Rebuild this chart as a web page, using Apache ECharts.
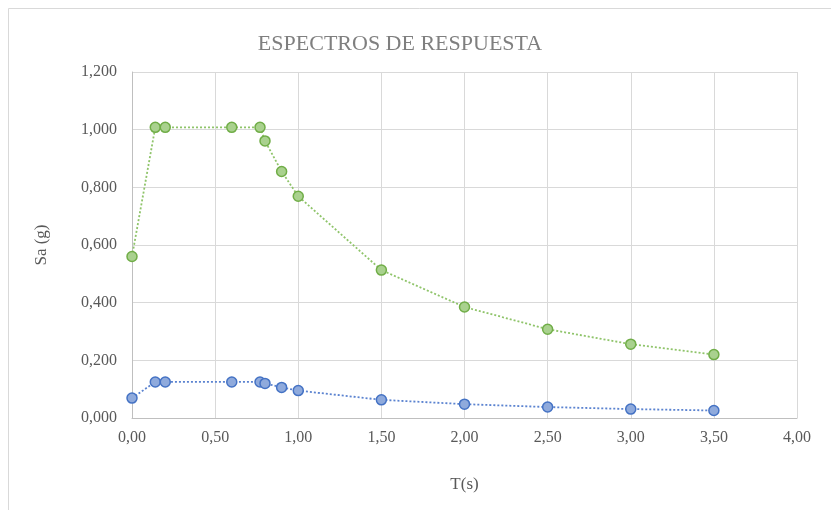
<!DOCTYPE html>
<html><head><meta charset="utf-8">
<script src="https://cdn.jsdelivr.net/npm/echarts@6/dist/echarts.min.js"></script>
<style>html,body{margin:0;padding:0;background:#fff}#c{width:831px;height:510px}</style>
</head><body><div id="c"></div>
<script>
const periods = [0, 0.14, 0.20, 0.60, 0.77, 0.80, 0.90, 1.00, 1.50, 2.00, 2.50, 3.00, 3.50];
const saGreen = [0.560, 1.008, 1.008, 1.008, 1.008, 0.961, 0.855, 0.769, 0.513, 0.385, 0.308, 0.256, 0.220];
const saBlue = [0.069, 0.125, 0.125, 0.125, 0.125, 0.120, 0.106, 0.095, 0.063, 0.048, 0.038, 0.031, 0.026];
const titleText = 'ESPECTROS DE RESPUESTA';
const xName = 'T(s)';
const yName = 'Sa (g)';

const font = '"Liberation Serif", "Times New Roman", serif';
const chart = echarts.init(document.getElementById('c'));
function pairs(ys){ return periods.map((t,i)=>[t, ys[i]]); }
chart.setOption({
  animation: false,
  backgroundColor: '#fff',
  title: { text: titleText, left: 395, top: 28, textAlign: 'center',
    textStyle: { fontFamily: font, fontSize: 22, fontWeight: 'normal', color: '#7f7f7f' } },
  graphic: [
    { type: 'line', shape: { x1: 8.5, y1: 8.5, x2: 831, y2: 8.5 }, style: { stroke: '#d9d9d9', lineWidth: 1 } },
    { type: 'line', shape: { x1: 8.5, y1: 8.5, x2: 8.5, y2: 510 }, style: { stroke: '#d9d9d9', lineWidth: 1 } }
  ],
  grid: { left: 132, right: 34, top: 72, bottom: 92 },
  xAxis: {
    type: 'value', min: 0, max: 4, interval: 0.5,
    name: xName, nameLocation: 'middle', nameGap: 58,
    nameTextStyle: { fontFamily: font, fontSize: 17, color: '#595959' },
    axisLine: { lineStyle: { color: '#bfbfbf' } }, axisTick: { show: false },
    axisLabel: { fontFamily: font, fontSize: 16, color: '#595959', margin: 12,
      formatter: v => v.toFixed(2).replace('.', ',') },
    splitLine: { show: true, lineStyle: { color: '#d9d9d9' } }
  },
  yAxis: {
    type: 'value', min: 0, max: 1.2, interval: 0.2,
    name: yName, nameLocation: 'middle', nameGap: 82,
    nameTextStyle: { fontFamily: font, fontSize: 17, color: '#595959' },
    axisLine: { show: true, lineStyle: { color: '#bfbfbf' } }, axisTick: { show: false },
    axisLabel: { fontFamily: font, fontSize: 16, color: '#595959', margin: 15,
      formatter: v => v.toFixed(3).replace('.', ',') },
    splitLine: { show: true, lineStyle: { color: '#d9d9d9' } }
  },
  series: [
    { type: 'line', data: pairs(saGreen), smooth: false,
      symbol: 'circle', symbolSize: 10,
      lineStyle: { color: '#8fc46a', width: 1.8, type: [2, 2] },
      itemStyle: { color: '#a9d18e', borderColor: '#70ad47', borderWidth: 1.5 } },
    { type: 'line', data: pairs(saBlue), smooth: false,
      symbol: 'circle', symbolSize: 10,
      lineStyle: { color: '#5b83d0', width: 1.8, type: [2, 2] },
      itemStyle: { color: '#8faadc', borderColor: '#4472c4', borderWidth: 1.5 } }
  ]
});
</script></body></html>
